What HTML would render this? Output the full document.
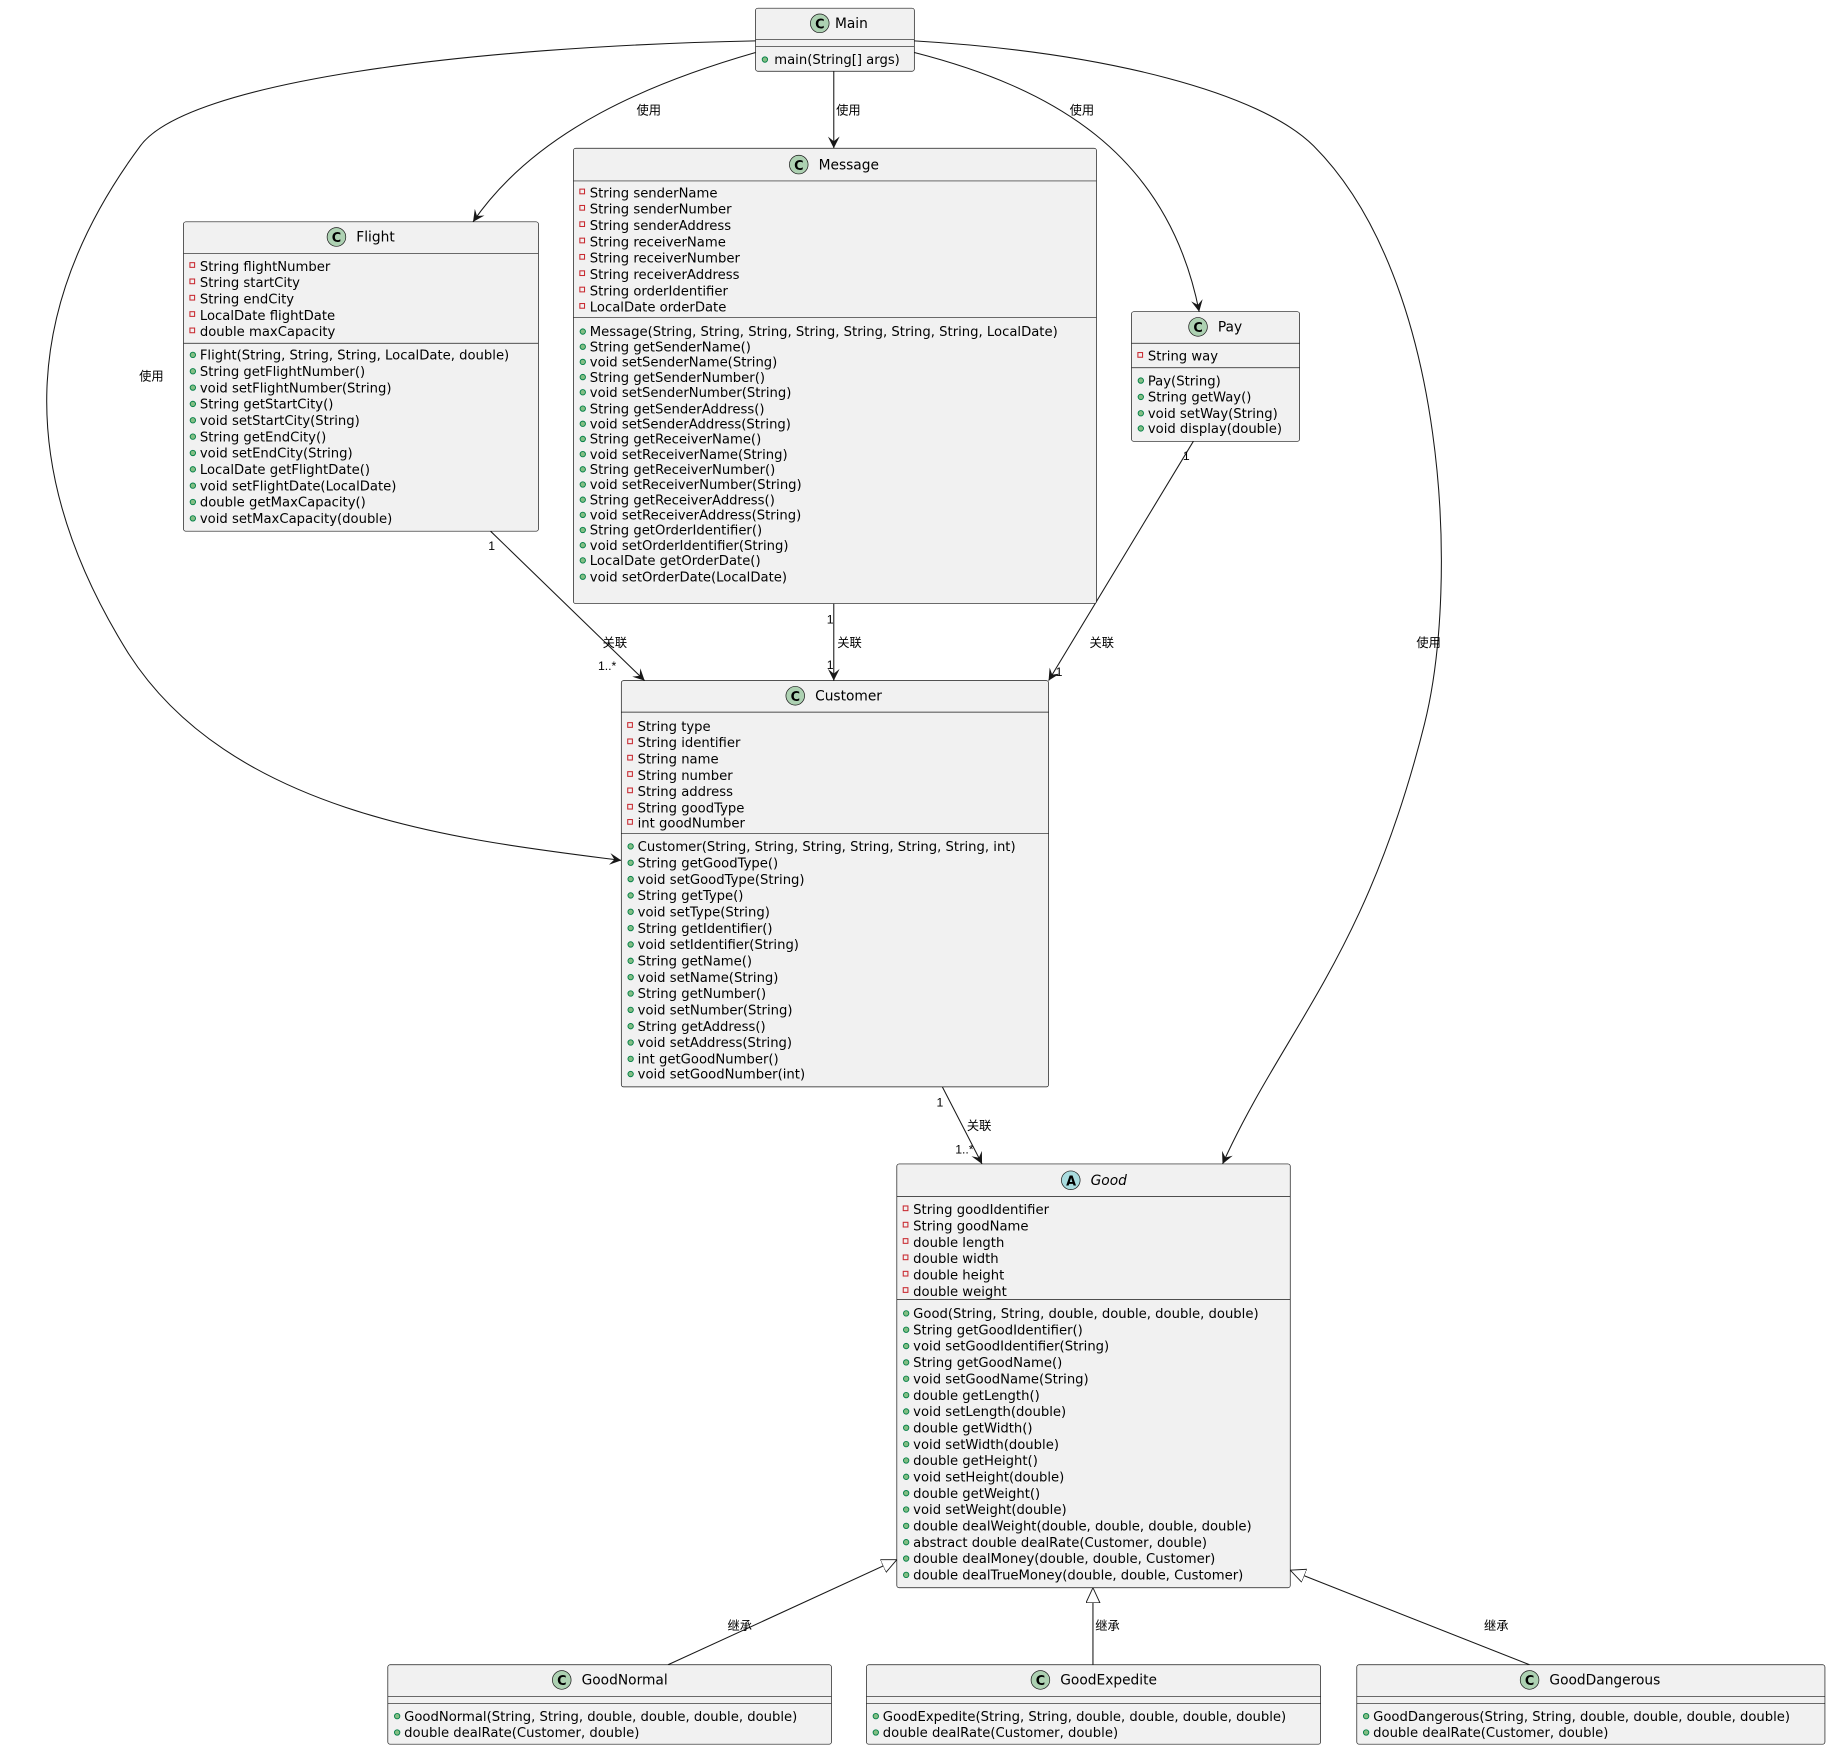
<!DOCTYPE html>
<html><head><meta charset="utf-8"><style>
html,body{margin:0;padding:0;background:#fff;}
svg{display:block;}
.m{font-family:"DejaVu Sans","Liberation Sans",sans-serif;font-size:11.3px;fill:#000;}
.h{font-family:"DejaVu Sans","Liberation Sans",sans-serif;font-size:11.8px;fill:#000;}
.l{font-family:"Liberation Sans","Noto Sans CJK SC",sans-serif;font-size:10.5px;fill:#000;}
.box{fill:#F1F1F1;stroke:#181818;stroke-width:0.6;}
.sep{stroke:#181818;stroke-width:0.6;}
.ln{fill:none;stroke:#181818;stroke-width:0.9;}
.pv{fill:none;stroke:#C82930;stroke-width:0.9;}
.pb{fill:#84BE84;stroke:#038048;stroke-width:0.8;}
</style></head><body>
<svg width="1831" height="1750" viewBox="0 0 1568 1499" xmlns="http://www.w3.org/2000/svg">
<defs>
<marker id="a" markerWidth="12" markerHeight="12" refX="10" refY="5" orient="auto" markerUnits="userSpaceOnUse">
<path d="M0,0 L10,5 L0,10 L4,5 Z" fill="#181818"/></marker>
<marker id="t" markerWidth="16" markerHeight="16" refX="13" refY="6" orient="auto" markerUnits="userSpaceOnUse">
<path d="M0,0 L13,6 L0,12 Z" fill="#fff" stroke="#181818" stroke-width="0.8"/></marker>
</defs>

<!-- connectors -->
<path class="ln" d="M647,45 C560,70 460,110 405,190" marker-end="url(#a)"/>
<path class="ln" d="M714,61 L714,127" marker-end="url(#a)"/>
<path class="ln" d="M783,45 C900,75 1000,130 1027,267" marker-end="url(#a)"/>
<path class="ln" d="M647,35 C400,40 160,70 120,125 C20,260 10,400 110,560 C200,700 400,720 532,737" marker-end="url(#a)"/>
<path class="ln" d="M783,35 C950,45 1080,80 1125,125 C1240,240 1250,500 1220,620 C1170,820 1100,880 1047,997" marker-end="url(#a)"/>
<path class="ln" d="M420,455 L552,583" marker-end="url(#a)"/>
<path class="ln" d="M714,517 L714,583" marker-end="url(#a)"/>
<path class="ln" d="M1022,378 L898,583" marker-end="url(#a)"/>
<path class="ln" d="M807,931 L841,997" marker-end="url(#a)"/>
<path class="ln" d="M572,1426 L768,1336" marker-end="url(#t)"/>
<path class="ln" d="M936,1426 L936,1360" marker-end="url(#t)"/>
<path class="ln" d="M1310,1426 L1105,1345" marker-end="url(#t)"/>

<text class="l" x="545" y="98">使用</text>
<text class="l" x="716" y="98">使用</text>
<text class="l" x="916" y="98">使用</text>
<text class="l" x="119" y="326">使用</text>
<text class="l" x="1213" y="554">使用</text>
<text class="l" x="418" y="471">1</text>
<text class="l" x="516" y="554">关联</text>
<text class="l" x="512" y="574">1..*</text>
<text class="l" x="708" y="534">1</text>
<text class="l" x="717" y="554">关联</text>
<text class="l" x="708" y="573">1</text>
<text class="l" x="1013" y="394">1</text>
<text class="l" x="933" y="554">关联</text>
<text class="l" x="904" y="579">1</text>
<text class="l" x="802" y="948">1</text>
<text class="l" x="828" y="968">关联</text>
<text class="l" x="818" y="988">1..*</text>
<text class="l" x="623" y="1396">继承</text>
<text class="l" x="938" y="1396">继承</text>
<text class="l" x="1271" y="1396">继承</text>

<!-- Main -->
<rect class="box" x="647" y="7" width="136" height="54" rx="2"/>
<line class="sep" x1="647" y1="34" x2="783" y2="34"/><line class="sep" x1="647" y1="40" x2="783" y2="40"/>
<circle cx="702" cy="20" r="8" fill="#ADD1B2" stroke="#181818" stroke-width="0.6"/><text class="h" x="698" y="24.5" style="font-weight:bold;font-size:11px">C</text>
<text class="h" x="715" y="24">Main</text>
<circle class="pb" cx="655" cy="51" r="2.3"/><text class="m" x="663" y="55">main(String[] args)</text>

<!-- Flight -->
<rect class="box" x="157" y="190" width="304" height="265" rx="2"/>
<line class="sep" x1="157" y1="217" x2="461" y2="217"/><line class="sep" x1="157" y1="294" x2="461" y2="294"/>
<circle cx="288" cy="203" r="8" fill="#ADD1B2" stroke="#181818" stroke-width="0.6"/><text class="h" x="284" y="207.5" style="font-weight:bold;font-size:11px">C</text>
<text class="h" x="305" y="207">Flight</text>
<g>
<rect class="pv" x="162.5" y="225" width="4" height="4"/><text class="m" x="171" y="232">String flightNumber</text>
<rect class="pv" x="162.5" y="239" width="4" height="4"/><text class="m" x="171" y="246">String startCity</text>
<rect class="pv" x="162.5" y="253" width="4" height="4"/><text class="m" x="171" y="260">String endCity</text>
<rect class="pv" x="162.5" y="267" width="4" height="4"/><text class="m" x="171" y="274">LocalDate flightDate</text>
<rect class="pv" x="162.5" y="281" width="4" height="4"/><text class="m" x="171" y="288">double maxCapacity</text>
<circle class="pb" cx="165" cy="304" r="2.3"/><text class="m" x="171" y="308">Flight(String, String, String, LocalDate, double)</text>
<circle class="pb" cx="165" cy="318" r="2.3"/><text class="m" x="171" y="322">String getFlightNumber()</text>
<circle class="pb" cx="165" cy="332" r="2.3"/><text class="m" x="171" y="336">void setFlightNumber(String)</text>
<circle class="pb" cx="165" cy="346" r="2.3"/><text class="m" x="171" y="350">String getStartCity()</text>
<circle class="pb" cx="165" cy="360" r="2.3"/><text class="m" x="171" y="364">void setStartCity(String)</text>
<circle class="pb" cx="165" cy="374" r="2.3"/><text class="m" x="171" y="378">String getEndCity()</text>
<circle class="pb" cx="165" cy="388" r="2.3"/><text class="m" x="171" y="392">void setEndCity(String)</text>
<circle class="pb" cx="165" cy="402" r="2.3"/><text class="m" x="171" y="406">LocalDate getFlightDate()</text>
<circle class="pb" cx="165" cy="416" r="2.3"/><text class="m" x="171" y="420">void setFlightDate(LocalDate)</text>
<circle class="pb" cx="165" cy="430" r="2.3"/><text class="m" x="171" y="434">double getMaxCapacity()</text>
<circle class="pb" cx="165" cy="444" r="2.3"/><text class="m" x="171" y="448">void setMaxCapacity(double)</text>
</g>

<!-- Message -->
<rect class="box" x="491" y="127" width="448" height="390" rx="2"/>
<line class="sep" x1="491" y1="155" x2="939" y2="155"/><line class="sep" x1="491" y1="272" x2="939" y2="272"/>
<circle cx="684" cy="141" r="8" fill="#ADD1B2" stroke="#181818" stroke-width="0.6"/><text class="h" x="680" y="145.5" style="font-weight:bold;font-size:11px">C</text>
<text class="h" x="701" y="145">Message</text>
<g>
<rect class="pv" x="496.5" y="162" width="4" height="4"/><text class="m" x="505" y="169">String senderName</text>
<rect class="pv" x="496.5" y="176" width="4" height="4"/><text class="m" x="505" y="183">String senderNumber</text>
<rect class="pv" x="496.5" y="190" width="4" height="4"/><text class="m" x="505" y="197">String senderAddress</text>
<rect class="pv" x="496.5" y="204" width="4" height="4"/><text class="m" x="505" y="211">String receiverName</text>
<rect class="pv" x="496.5" y="218" width="4" height="4"/><text class="m" x="505" y="225">String receiverNumber</text>
<rect class="pv" x="496.5" y="232" width="4" height="4"/><text class="m" x="505" y="239">String receiverAddress</text>
<rect class="pv" x="496.5" y="246" width="4" height="4"/><text class="m" x="505" y="253">String orderIdentifier</text>
<rect class="pv" x="496.5" y="260" width="4" height="4"/><text class="m" x="505" y="267">LocalDate orderDate</text>
<circle class="pb" cx="499" cy="284" r="2.3"/><text class="m" x="505" y="288">Message(String, String, String, String, String, String, String, LocalDate)</text>
<circle class="pb" cx="499" cy="297" r="2.3"/><text class="m" x="505" y="301">String getSenderName()</text>
<circle class="pb" cx="499" cy="310" r="2.3"/><text class="m" x="505" y="314">void setSenderName(String)</text>
<circle class="pb" cx="499" cy="323" r="2.3"/><text class="m" x="505" y="327">String getSenderNumber()</text>
<circle class="pb" cx="499" cy="336" r="2.3"/><text class="m" x="505" y="340">void setSenderNumber(String)</text>
<circle class="pb" cx="499" cy="350" r="2.3"/><text class="m" x="505" y="354">String getSenderAddress()</text>
<circle class="pb" cx="499" cy="363" r="2.3"/><text class="m" x="505" y="367">void setSenderAddress(String)</text>
<circle class="pb" cx="499" cy="376" r="2.3"/><text class="m" x="505" y="380">String getReceiverName()</text>
<circle class="pb" cx="499" cy="389" r="2.3"/><text class="m" x="505" y="393">void setReceiverName(String)</text>
<circle class="pb" cx="499" cy="402" r="2.3"/><text class="m" x="505" y="406">String getReceiverNumber()</text>
<circle class="pb" cx="499" cy="415" r="2.3"/><text class="m" x="505" y="419">void setReceiverNumber(String)</text>
<circle class="pb" cx="499" cy="428" r="2.3"/><text class="m" x="505" y="432">String getReceiverAddress()</text>
<circle class="pb" cx="499" cy="441" r="2.3"/><text class="m" x="505" y="445">void setReceiverAddress(String)</text>
<circle class="pb" cx="499" cy="454" r="2.3"/><text class="m" x="505" y="458">String getOrderIdentifier()</text>
<circle class="pb" cx="499" cy="467" r="2.3"/><text class="m" x="505" y="471">void setOrderIdentifier(String)</text>
<circle class="pb" cx="499" cy="480" r="2.3"/><text class="m" x="505" y="484">LocalDate getOrderDate()</text>
<circle class="pb" cx="499" cy="494" r="2.3"/><text class="m" x="505" y="498">void setOrderDate(LocalDate)</text>
</g>

<!-- Pay -->
<rect class="box" x="969" y="267" width="144" height="111" rx="2"/>
<line class="sep" x1="969" y1="294" x2="1113" y2="294"/><line class="sep" x1="969" y1="315" x2="1113" y2="315"/>
<circle cx="1026" cy="280" r="8" fill="#ADD1B2" stroke="#181818" stroke-width="0.6"/><text class="h" x="1022" y="284.5" style="font-weight:bold;font-size:11px">C</text>
<text class="h" x="1043" y="284">Pay</text>
<rect class="pv" x="974.5" y="302" width="4" height="4"/><text class="m" x="983" y="309">String way</text>
<circle class="pb" cx="977" cy="326" r="2.3"/><text class="m" x="983" y="330">Pay(String)</text>
<circle class="pb" cx="977" cy="340" r="2.3"/><text class="m" x="983" y="344">String getWay()</text>
<circle class="pb" cx="977" cy="354" r="2.3"/><text class="m" x="983" y="358">void setWay(String)</text>
<circle class="pb" cx="977" cy="367" r="2.3"/><text class="m" x="983" y="371">void display(double)</text>

<!-- Customer -->
<rect class="box" x="532" y="583" width="366" height="348" rx="2"/>
<line class="sep" x1="532" y1="610" x2="898" y2="610"/><line class="sep" x1="532" y1="714" x2="898" y2="714"/>
<circle cx="681" cy="596" r="8" fill="#ADD1B2" stroke="#181818" stroke-width="0.6"/><text class="h" x="677" y="600.5" style="font-weight:bold;font-size:11px">C</text>
<text class="h" x="698" y="600">Customer</text>
<g>
<rect class="pv" x="537.5" y="619" width="4" height="4"/><text class="m" x="546" y="626">String type</text>
<rect class="pv" x="537.5" y="633" width="4" height="4"/><text class="m" x="546" y="640">String identifier</text>
<rect class="pv" x="537.5" y="647" width="4" height="4"/><text class="m" x="546" y="654">String name</text>
<rect class="pv" x="537.5" y="661" width="4" height="4"/><text class="m" x="546" y="668">String number</text>
<rect class="pv" x="537.5" y="675" width="4" height="4"/><text class="m" x="546" y="682">String address</text>
<rect class="pv" x="537.5" y="689" width="4" height="4"/><text class="m" x="546" y="696">String goodType</text>
<rect class="pv" x="537.5" y="702" width="4" height="4"/><text class="m" x="546" y="709">int goodNumber</text>
<circle class="pb" cx="540" cy="725" r="2.3"/><text class="m" x="546" y="729">Customer(String, String, String, String, String, String, int)</text>
<circle class="pb" cx="540" cy="739" r="2.3"/><text class="m" x="546" y="743">String getGoodType()</text>
<circle class="pb" cx="540" cy="753" r="2.3"/><text class="m" x="546" y="757">void setGoodType(String)</text>
<circle class="pb" cx="540" cy="767" r="2.3"/><text class="m" x="546" y="771">String getType()</text>
<circle class="pb" cx="540" cy="781" r="2.3"/><text class="m" x="546" y="785">void setType(String)</text>
<circle class="pb" cx="540" cy="795" r="2.3"/><text class="m" x="546" y="799">String getIdentifier()</text>
<circle class="pb" cx="540" cy="809" r="2.3"/><text class="m" x="546" y="813">void setIdentifier(String)</text>
<circle class="pb" cx="540" cy="823" r="2.3"/><text class="m" x="546" y="827">String getName()</text>
<circle class="pb" cx="540" cy="837" r="2.3"/><text class="m" x="546" y="841">void setName(String)</text>
<circle class="pb" cx="540" cy="851" r="2.3"/><text class="m" x="546" y="855">String getNumber()</text>
<circle class="pb" cx="540" cy="865" r="2.3"/><text class="m" x="546" y="869">void setNumber(String)</text>
<circle class="pb" cx="540" cy="879" r="2.3"/><text class="m" x="546" y="883">String getAddress()</text>
<circle class="pb" cx="540" cy="893" r="2.3"/><text class="m" x="546" y="897">void setAddress(String)</text>
<circle class="pb" cx="540" cy="907" r="2.3"/><text class="m" x="546" y="911">int getGoodNumber()</text>
<circle class="pb" cx="540" cy="920" r="2.3"/><text class="m" x="546" y="924">void setGoodNumber(int)</text>
</g>

<!-- Good -->
<rect class="box" x="768" y="997" width="337" height="363" rx="2"/>
<line class="sep" x1="768" y1="1025" x2="1105" y2="1025"/><line class="sep" x1="768" y1="1113" x2="1105" y2="1113"/>
<circle cx="917" cy="1011" r="8" fill="#A9DCDF" stroke="#181818" stroke-width="0.6"/><text class="h" x="913" y="1015.5" style="font-weight:bold;font-size:11px">A</text>
<text class="h" x="934" y="1015" style="font-style:italic">Good</text>
<g>
<rect class="pv" x="773.5" y="1033" width="4" height="4"/><text class="m" x="782" y="1040">String goodIdentifier</text>
<rect class="pv" x="773.5" y="1047" width="4" height="4"/><text class="m" x="782" y="1054">String goodName</text>
<rect class="pv" x="773.5" y="1061" width="4" height="4"/><text class="m" x="782" y="1068">double length</text>
<rect class="pv" x="773.5" y="1075" width="4" height="4"/><text class="m" x="782" y="1082">double width</text>
<rect class="pv" x="773.5" y="1089" width="4" height="4"/><text class="m" x="782" y="1096">double height</text>
<rect class="pv" x="773.5" y="1103" width="4" height="4"/><text class="m" x="782" y="1110">double weight</text>
<circle class="pb" cx="776" cy="1125" r="2.3"/><text class="m" x="782" y="1129">Good(String, String, double, double, double, double)</text>
<circle class="pb" cx="776" cy="1139" r="2.3"/><text class="m" x="782" y="1143">String getGoodIdentifier()</text>
<circle class="pb" cx="776" cy="1153" r="2.3"/><text class="m" x="782" y="1157">void setGoodIdentifier(String)</text>
<circle class="pb" cx="776" cy="1167" r="2.3"/><text class="m" x="782" y="1171">String getGoodName()</text>
<circle class="pb" cx="776" cy="1181" r="2.3"/><text class="m" x="782" y="1185">void setGoodName(String)</text>
<circle class="pb" cx="776" cy="1195" r="2.3"/><text class="m" x="782" y="1199">double getLength()</text>
<circle class="pb" cx="776" cy="1209" r="2.3"/><text class="m" x="782" y="1213">void setLength(double)</text>
<circle class="pb" cx="776" cy="1223" r="2.3"/><text class="m" x="782" y="1227">double getWidth()</text>
<circle class="pb" cx="776" cy="1237" r="2.3"/><text class="m" x="782" y="1241">void setWidth(double)</text>
<circle class="pb" cx="776" cy="1251" r="2.3"/><text class="m" x="782" y="1255">double getHeight()</text>
<circle class="pb" cx="776" cy="1265" r="2.3"/><text class="m" x="782" y="1269">void setHeight(double)</text>
<circle class="pb" cx="776" cy="1279" r="2.3"/><text class="m" x="782" y="1283">double getWeight()</text>
<circle class="pb" cx="776" cy="1293" r="2.3"/><text class="m" x="782" y="1297">void setWeight(double)</text>
<circle class="pb" cx="776" cy="1307" r="2.3"/><text class="m" x="782" y="1311">double dealWeight(double, double, double, double)</text>
<circle class="pb" cx="776" cy="1321" r="2.3"/><text class="m" x="782" y="1325">abstract double dealRate(Customer, double)</text>
<circle class="pb" cx="776" cy="1335" r="2.3"/><text class="m" x="782" y="1339">double dealMoney(double, double, Customer)</text>
<circle class="pb" cx="776" cy="1349" r="2.3"/><text class="m" x="782" y="1353">double dealTrueMoney(double, double, Customer)</text>
</g>

<!-- GoodNormal -->
<rect class="box" x="332" y="1426" width="380" height="68" rx="2"/>
<line class="sep" x1="332" y1="1453" x2="712" y2="1453"/><line class="sep" x1="332" y1="1459" x2="712" y2="1459"/>
<circle cx="481" cy="1439" r="8" fill="#ADD1B2" stroke="#181818" stroke-width="0.6"/><text class="h" x="477" y="1443.5" style="font-weight:bold;font-size:11px">C</text>
<text class="h" x="498" y="1443">GoodNormal</text>
<circle class="pb" cx="340" cy="1470" r="2.3"/><text class="m" x="346" y="1474">GoodNormal(String, String, double, double, double, double)</text>
<circle class="pb" cx="340" cy="1484" r="2.3"/><text class="m" x="346" y="1488">double dealRate(Customer, double)</text>

<!-- GoodExpedite -->
<rect class="box" x="742" y="1426" width="389" height="68" rx="2"/>
<line class="sep" x1="742" y1="1453" x2="1131" y2="1453"/><line class="sep" x1="742" y1="1459" x2="1131" y2="1459"/>
<circle cx="891" cy="1439" r="8" fill="#ADD1B2" stroke="#181818" stroke-width="0.6"/><text class="h" x="887" y="1443.5" style="font-weight:bold;font-size:11px">C</text>
<text class="h" x="908" y="1443">GoodExpedite</text>
<circle class="pb" cx="750" cy="1470" r="2.3"/><text class="m" x="756" y="1474">GoodExpedite(String, String, double, double, double, double)</text>
<circle class="pb" cx="750" cy="1484" r="2.3"/><text class="m" x="756" y="1488">double dealRate(Customer, double)</text>

<!-- GoodDangerous -->
<rect class="box" x="1162" y="1426" width="401" height="68" rx="2"/>
<line class="sep" x1="1162" y1="1453" x2="1563" y2="1453"/><line class="sep" x1="1162" y1="1459" x2="1563" y2="1459"/>
<circle cx="1310" cy="1439" r="8" fill="#ADD1B2" stroke="#181818" stroke-width="0.6"/><text class="h" x="1306" y="1443.5" style="font-weight:bold;font-size:11px">C</text>
<text class="h" x="1327" y="1443">GoodDangerous</text>
<circle class="pb" cx="1170" cy="1470" r="2.3"/><text class="m" x="1176" y="1474">GoodDangerous(String, String, double, double, double, double)</text>
<circle class="pb" cx="1170" cy="1484" r="2.3"/><text class="m" x="1176" y="1488">double dealRate(Customer, double)</text>
</svg>
</body></html>
